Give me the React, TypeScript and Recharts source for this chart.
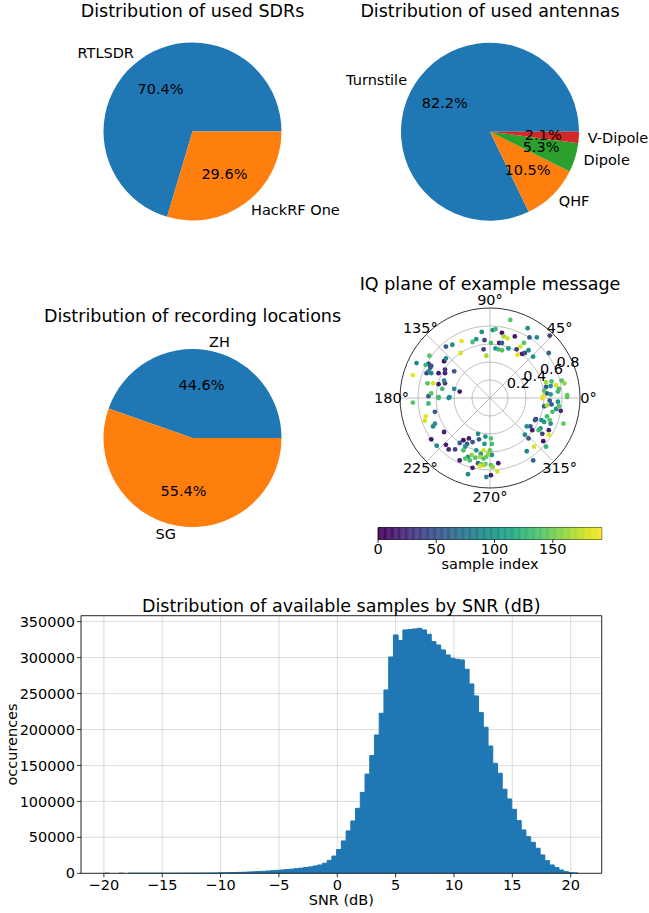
import React from "react";
import {
	Bar,
	BarChart,
	CartesianGrid,
	Cell,
	Pie,
	PieChart,
	PolarAngleAxis,
	PolarGrid,
	PolarRadiusAxis,
	RadarChart,
	ReferenceArea,
	ReferenceLine,
	Scatter,
	ScatterChart,
	XAxis,
	YAxis,
} from "recharts";

const FONT = "DejaVu Sans";
const PIE_COLORS = ["#1f77b4", "#ff7f0e", "#2ca02c", "#d62728"];
const RAD = Math.PI / 180;
const TITLE_SIZE = 17.5;
const TEXT_SIZE = 14.5;

// pie data
const sdrNames = ["RTLSDR", "HackRF One"];
const sdrShares = [70.4, 29.6];
const antennaNames = ["Turnstile", "QHF", "Dipole", "V-Dipole"];
const antennaShares = [82.16, 10.46, 5.3, 2.08];
const locationNames = ["ZH", "SG"];
const locationShares = [44.6, 55.4];

// IQ plane: [I, Q, sample index]
const iqSamples: [number, number, number][] = [
	[-0.09, 0.72, 95], [-0.19, 0.61, 135], [-0.15, 0.64, 100], [-0.06, 0.63, 40], [-0.31, 0.62, 185],
	[-0.41, 0.58, 95], [-0.48, 0.56, 55], [-0.32, 0.49, 180], [-0.07, 0.53, 35], [-0.04, 0.46, 165],
	[-0.66, 0.46, 140], [-0.48, 0.43, 95], [-0.5, 0.4, 10], [-0.8, 0.38, 90], [-0.7, 0.36, 130],
	[-0.67, 0.37, 30], [-0.64, 0.35, 50], [-0.65, 0.33, 45], [-0.84, 0.25, 185], [-0.67, 0.29, 85],
	[-0.69, 0.27, 35], [-0.64, 0.27, 90], [-0.56, 0.27, 15], [-0.49, 0.31, 30], [-0.49, 0.27, 20],
	[-0.39, 0.29, 55], [-0.68, 0.16, 140], [-0.62, 0.16, 180], [-0.56, 0.15, 15], [-0.5, 0.19, 85],
	[-0.49, 0.16, 35], [-0.64, 0.05, 140], [-0.67, 0.02, 55], [-0.52, 0.1, 130], [-0.56, 0.01, 110],
	[-0.39, 0.1, 90], [-0.33, 0.07, 15], [-0.44, 0.01, 95],
	[0.22, 0.85, 140], [0.03, 0.74, 95], [0.06, 0.75, 130], [0.13, 0.71, 10], [0.15, 0.67, 165],
	[0.19, 0.65, 180], [0.27, 0.67, 15], [0.41, 0.76, 95], [0.43, 0.66, 55], [0.51, 0.66, 90],
	[0.65, 0.68, 40], [0.37, 0.6, 140], [0.33, 0.56, 180], [0.01, 0.6, 135], [0.1, 0.6, 15],
	[0.13, 0.6, 55], [0.06, 0.54, 95], [0.09, 0.53, 130], [0.13, 0.52, 140], [0.2, 0.54, 95],
	[0.29, 0.53, 35], [0.3, 0.47, 185], [0.35, 0.48, 15], [0.38, 0.49, 40], [0.42, 0.52, 90],
	[0.47, 0.45, 95], [0.64, 0.49, 60], [0.67, 0.18, 135], [0.61, 0.17, 165], [0.72, 0.14, 180],
	[0.78, 0.19, 140], [0.81, 0.16, 160], [0.61, 0.12, 55], [0.66, 0.13, 95], [0.75, 0.1, 135],
	[0.59, 0.08, 140], [0.62, 0.05, 55], [0.74, 0.07, 130], [0.66, 0.04, 100], [0.84, 0.03, 145],
	[0.58, 0.02, 185],
	[-0.84, -0.05, 140], [-0.67, -0.06, 130], [-0.56, 0.0, 135], [-0.45, 0.0, 95], [-0.6, -0.15, 55],
	[-0.7, -0.2, 185], [-0.71, -0.25, 180], [-0.6, -0.28, 95], [-0.62, -0.31, 90], [-0.5, -0.37, 15],
	[-0.64, -0.45, 10], [-0.58, -0.52, 90], [-0.48, -0.51, 15], [-0.45, -0.56, 20], [-0.38, -0.56, 40],
	[-0.33, -0.49, 55], [-0.29, -0.46, 10], [-0.25, -0.5, 55], [-0.23, -0.44, 15], [-0.19, -0.48, 50],
	[-0.27, -0.53, 95], [-0.29, -0.57, 135], [-0.33, -0.68, 15], [-0.13, -0.39, 90], [-0.12, -0.45, 55],
	[-0.05, -0.42, 95], [-0.06, -0.5, 100], [-0.15, -0.57, 95], [-0.07, -0.57, 180], [-0.1, -0.61, 100],
	[-0.2, -0.62, 160], [-0.16, -0.65, 140], [-0.11, -0.64, 165], [-0.07, -0.66, 135], [-0.04, -0.64, 145],
	[-0.02, -0.61, 160], [-0.27, -0.66, 140], [-0.24, -0.64, 95], [-0.22, -0.68, 135], [-0.13, -0.71, 55],
	[-0.1, -0.72, 140], [-0.07, -0.73, 165], [-0.11, -0.74, 180], [-0.05, -0.72, 140], [-0.19, -0.76, 15],
	[-0.24, -0.83, 95], [-0.04, -0.86, 90],
	[0.57, 0.0, 185], [0.65, -0.03, 55], [0.74, -0.04, 95], [0.84, 0.01, 140], [0.59, -0.09, 60],
	[0.62, -0.08, 165], [0.67, -0.07, 55], [0.72, -0.12, 95], [0.75, -0.09, 140], [0.77, -0.14, 20],
	[0.68, -0.15, 135], [0.5, -0.23, 35], [0.49, -0.24, 50], [0.56, -0.24, 95], [0.59, -0.26, 100],
	[0.62, -0.2, 135], [0.65, -0.24, 140], [0.66, -0.28, 95], [0.8, -0.28, 145], [0.4, -0.31, 95],
	[0.44, -0.31, 55], [0.46, -0.35, 15], [0.53, -0.35, 130], [0.55, -0.33, 95], [0.57, -0.39, 35],
	[0.64, -0.35, 20], [0.64, -0.4, 185], [0.38, -0.4, 95], [0.42, -0.44, 55], [0.58, -0.47, 10],
	[0.61, -0.53, 125], [0.48, -0.53, 180], [0.4, -0.58, 90], [0.47, -0.68, 60], [0.01, -0.44, 140],
	[0.02, -0.5, 135], [0.0, -0.57, 145], [0.02, -0.62, 95], [0.09, -0.71, 15], [0.01, -0.73, 140],
	[0.03, -0.75, 160], [0.08, -0.8, 180], [0.01, -0.84, 15],
];
const angleLabels = ["0°", "45°", "90°", "135°", "180°", "225°", "270°", "315°"];
const radiusTicks = [0.2, 0.4, 0.6, 0.8];
const rMax = 0.98;
const sampleMax = 192;
const colorbarTicks = [0, 50, 100, 150];

// SNR histogram, 100 bins
const snrStart = -19.93;
const snrBinWidth = 0.4056;
const snrCounts = [
	1, 0, 0, 2, 0, 3, 2, 5, 6, 8, 12, 15, 20, 28, 40, 55, 70, 90, 120, 150, 190, 240,
	300, 450, 600, 800, 950, 1100, 1300, 1500, 1800, 2100, 2400, 2800, 3200, 3600, 4100, 4600,
	5200, 5800, 6500, 7200, 8000, 8900, 10200, 11600, 14000, 18000, 24000, 33000, 45000, 59000,
	72800, 90400, 112500, 138000, 163700, 192400, 222600, 255000, 300900, 331500, 323700, 338500,
	339000, 339900, 340800, 338500, 332500, 322300, 317600, 310700, 303700, 299100, 297700, 296800,
	283800, 263400, 246700, 223500, 203100, 177100, 153000, 139100, 116900, 103400, 89000, 73300,
	60300, 51000, 43100, 34800, 25500, 17600, 11600, 7900, 4600, 2300, 900, 500,
];
const snrTicks = [-20, -15, -10, -5, 0, 5, 10, 15, 20];
const countTicks = [0, 50000, 100000, 150000, 200000, 250000, 300000, 350000];
const snrDomain: [number, number] = [-21.96, 22.66];
const countMax = 358300;

const VIRIDIS = [
	"#440154", "#482475", "#414487", "#355f8d", "#2a788e", "#21918c",
	"#22a884", "#44bf70", "#7ad151", "#bddf26", "#fde725",
];

const viridis = (t: number) => {
	const p = Math.max(0, Math.min(1, t)) * (VIRIDIS.length - 1);
	const i = Math.min(Math.floor(p), VIRIDIS.length - 2);
	const f = p - i;
	const a = VIRIDIS[i];
	const b = VIRIDIS[i + 1];
	const ch = (s: string, k: number) => parseInt(s.slice(1 + k * 2, 3 + k * 2), 16);
	const mix = [0, 1, 2].map((k) => Math.round(ch(a, k) + (ch(b, k) - ch(a, k)) * f));
	return `rgb(${mix[0]},${mix[1]},${mix[2]})`;
};

const toPie = (names: string[], shares: number[]) =>
	names.map((name, i) => ({ name, value: shares[i] }));

const pieLabel = (props: any) => {
	const { cx, cy, midAngle, outerRadius, percent, name } = props;
	const c = Math.cos(-midAngle * RAD);
	const s = Math.sin(-midAngle * RAD);
	return (
		<g>
			<text
				x={cx + outerRadius * 1.1 * c}
				y={cy + outerRadius * 1.1 * s}
				textAnchor={c < 0 ? "end" : "start"}
				dominantBaseline="central"
				fontFamily={FONT}
				fontSize={TEXT_SIZE}
				fill="#000"
			>
				{name}
			</text>
			<text
				x={cx + outerRadius * 0.6 * c}
				y={cy + outerRadius * 0.6 * s}
				textAnchor="middle"
				dominantBaseline="central"
				fontFamily={FONT}
				fontSize={TEXT_SIZE}
				fill="#000"
			>
				{(percent * 100).toFixed(1)}%
			</text>
		</g>
	);
};

interface PieBoxProps {
	names: string[];
	shares: number[];
	left: number;
	top: number;
	width: number;
	height: number;
	cx: number;
	cy: number;
}

const PieBox = ({ names, shares, left, top, width, height, cx, cy }: PieBoxProps) => (
	<div style={{ position: "absolute", left, top }}>
		<PieChart width={width} height={height} margin={{ top: 0, right: 0, bottom: 0, left: 0 }}>
			<Pie
				data={toPie(names, shares)}
				dataKey="value"
				nameKey="name"
				cx={cx}
				cy={cy}
				outerRadius={89}
				startAngle={0}
				endAngle={360}
				stroke="none"
				labelLine={false}
				label={pieLabel}
				isAnimationActive={false}
			>
				{names.map((n, i) => (
					<Cell key={n} fill={PIE_COLORS[i]} />
				))}
			</Pie>
		</PieChart>
	</div>
);

const angleTick = (p: any) => {
	const a = p.payload.coordinate;
	let x = p.x;
	let y = p.y;
	if (typeof p.cx === "number" && typeof p.radius === "number") {
		x = p.cx + (p.radius + 8.5) * Math.cos(-a * RAD);
		y = p.cy + (p.radius + 8.5) * Math.sin(-a * RAD);
	}
	return (
		<text x={x} y={y} textAnchor="middle" dominantBaseline="central" fontFamily={FONT} fontSize={TEXT_SIZE} fill="#000">
			{p.payload.value}
		</text>
	);
};

const radiusTick = (p: any) => {
	const v = Number(p.payload.value);
	if (!radiusTicks.some((t) => Math.abs(t - v) < 1e-6)) return <g />;
	return (
		<text x={p.x} y={p.y - 3.3} textAnchor="start" fontFamily={FONT} fontSize={TEXT_SIZE} fill="#000">
			{v.toFixed(1)}
		</text>
	);
};

const dot = (p: any) => (
	<circle cx={p.cx} cy={p.cy} r={2.4} fill={viridis(p.payload.idx / sampleMax)} />
);

const minus = (v: number) => (v < 0 ? `\u2212${-v}` : `${v}`);

const App = () => {
	const iqData = iqSamples
		.map(([i, q, idx]) => ({ i, q, idx }))
		.sort((a, b) => a.idx - b.idx);
	const snrData = snrCounts.map((count, k) => ({
		snr: snrStart + snrBinWidth * (k + 0.5),
		count,
	}));
	const angleData = angleLabels.map((label) => ({ label }));
	// one colour cell per sample index
	const cbData = Array.from({ length: sampleMax }, (_, k) => ({ k: k + 0.5, on: 1 }));
	const tickStyle = { fill: "#000", fontSize: TEXT_SIZE, fontFamily: FONT };
	const spine = { stroke: "#000", strokeWidth: 0.8 };

	return (
		<div style={{ position: "absolute", left: 0, top: 0, width: 649, height: 913, background: "#fff" }}>
			<PieBox names={sdrNames} shares={sdrShares} left={0} top={0} width={370} height={260} cx={192.5} cy={131.5} />
			<PieBox names={antennaNames} shares={antennaShares} left={330} top={0} width={319} height={260} cx={160} cy={131.7} />
			<PieBox names={locationNames} shares={locationShares} left={0} top={300} width={330} height={250} cx={192.5} cy={138} />

			<div style={{ position: "absolute", left: 350, top: 290 }}>
				<RadarChart
					width={299}
					height={220}
					cx={140}
					cy={108}
					outerRadius={90}
					startAngle={45}
					endAngle={405}
					data={angleData}
					margin={{ top: 0, right: 0, bottom: 0, left: 0 }}
				>
					<PolarGrid gridType="circle" stroke="#b0b0b0" strokeWidth={0.8} />
					<PolarAngleAxis
						dataKey="label"
						axisLineType="circle"
						axisLine={spine}
						tickLine={false}
						tick={angleTick}
					/>
					<PolarRadiusAxis
						type="number"
						angle={22.5}
						domain={[0, rMax]}
						ticks={radiusTicks as any}
						tickCount={6}
						allowDataOverflow
						axisLine={false}
						tick={radiusTick}
					/>
				</RadarChart>
			</div>

			<div style={{ position: "absolute", left: 400, top: 308 }}>
				<ScatterChart width={180} height={180} margin={{ top: 0, right: 0, bottom: 0, left: 0 }}>
					<XAxis type="number" dataKey="i" domain={[-rMax, rMax]} allowDataOverflow hide />
					<YAxis type="number" dataKey="q" domain={[-rMax, rMax]} allowDataOverflow hide />
					<Scatter data={iqData} shape={dot} isAnimationActive={false} />
				</ScatterChart>
			</div>

			<div style={{ position: "absolute", left: 350, top: 515 }}>
				<BarChart
					width={299}
					height={54.5}
					data={cbData}
					margin={{ top: 12.5, right: 47.3, bottom: 0, left: 28 }}
					barCategoryGap={0}
					barGap={0}
				>
					<XAxis
						type="number"
						dataKey="k"
						domain={[0, sampleMax]}
						ticks={colorbarTicks}
						interval={0}
						allowDataOverflow
						height={30}
						tickSize={3.5}
						tickMargin={1}
						axisLine={false}
						tickLine={spine}
						tick={tickStyle}
					/>
					<YAxis hide type="number" domain={[0, 1]} allowDataOverflow />
					<Bar dataKey="on" barSize={1.15} isAnimationActive={false}>
						{cbData.map((d) => (
							<Cell key={d.k} fill={viridis(d.k / sampleMax)} stroke={viridis(d.k / sampleMax)} strokeWidth={0.4} />
						))}
					</Bar>
					<ReferenceArea x1={0} x2={sampleMax} y1={0} y2={1} fill="none" fillOpacity={0} stroke="#000" strokeWidth={0.8} />
				</BarChart>
			</div>

			<div style={{ position: "absolute", left: 0, top: 590 }}>
				<BarChart
					width={649}
					height={323}
					data={snrData}
					margin={{ top: 25.7, right: 47.3, bottom: 10, left: 6 }}
					barCategoryGap={0}
					barGap={0}
				>
					<XAxis
						type="number"
						dataKey="snr"
						domain={snrDomain}
						ticks={snrTicks}
						interval={0}
						allowDataOverflow
						height={29.7}
						tickSize={4}
						tickMargin={2.5}
						tickFormatter={minus}
						axisLine={spine}
						tickLine={spine}
						tick={tickStyle}
					/>
					<YAxis
						type="number"
						domain={[0, countMax]}
						ticks={countTicks}
						interval={0}
						allowDataOverflow
						width={75}
						tickSize={4}
						tickMargin={2}
						axisLine={spine}
						tickLine={spine}
						tick={tickStyle}
					/>
					<Bar dataKey="count" fill="#1f77b4" stroke="#1f77b4" strokeWidth={1} barSize={4.7} isAnimationActive={false} />
					<CartesianGrid stroke="#b0b0b0" strokeOpacity={0.55} strokeWidth={0.8} />
					<ReferenceLine y={countMax} stroke="#000" strokeWidth={0.8} />
					<ReferenceLine x={snrDomain[1]} stroke="#000" strokeWidth={0.8} />
				</BarChart>
			</div>

			<svg
				width={649}
				height={913}
				style={{ position: "absolute", left: 0, top: 0, pointerEvents: "none" }}
				fontFamily={FONT}
				fill="#000"
			>
				<text x={192.5} y={17} textAnchor="middle" fontSize={TITLE_SIZE}>Distribution of used SDRs</text>
				<text x={490} y={17} textAnchor="middle" fontSize={TITLE_SIZE}>Distribution of used antennas</text>
				<text x={192.5} y={321.5} textAnchor="middle" fontSize={TITLE_SIZE}>Distribution of recording locations</text>
				<text x={490} y={289.5} textAnchor="middle" fontSize={TITLE_SIZE}>IQ plane of example message</text>
				<text x={490} y={568.5} textAnchor="middle" fontSize={TEXT_SIZE}>sample index</text>
				<text x={341.3} y={611.5} textAnchor="middle" fontSize={TITLE_SIZE}>Distribution of available samples by SNR (dB)</text>
				<text x={341.3} y={905} textAnchor="middle" fontSize={TEXT_SIZE}>SNR (dB)</text>
				<text x={17} y={744.5} textAnchor="middle" fontSize={TEXT_SIZE} transform="rotate(-90, 17, 744.5)">occurences</text>
			</svg>
		</div>
	);
};

export default App;
